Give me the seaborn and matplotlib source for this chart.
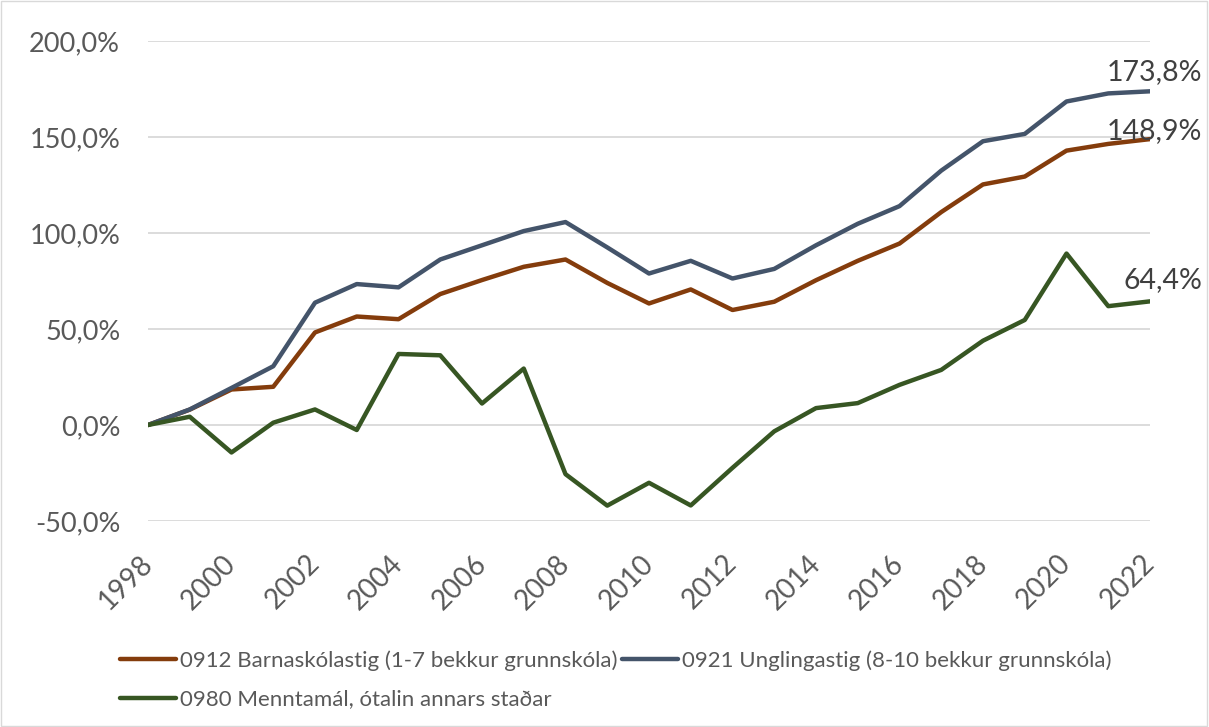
import pandas as pd
import seaborn as sns
import matplotlib.pyplot as plt
import matplotlib.transforms as mtrans
from matplotlib.patches import Rectangle

# Data (percent change since 1998)
years = list(range(1998, 2023))
barnaskolastig = [0, 8, 18.5, 19.9, 48.2, 56.5, 55.1, 68.2, 75.5, 82.4, 86.2, 74, 63.3,
                  70.6, 59.9, 64.2, 75.4, 85.5, 94.5, 110.9, 125.3, 129.4, 142.9, 146.4, 148.9]
unglingastig = [0, 8.1, 19.3, 30.6, 63.7, 73.4, 71.7, 86.2, 93.6, 101, 105.7, 92.5, 78.9,
                85.5, 76.3, 81.3, 93.6, 104.8, 114, 132.5, 147.8, 151.6, 168.5, 172.7, 173.8]
menntamal = [0, 4.3, -14.3, 1.2, 8.1, -2.6, 37, 36.3, 11.2, 29.4, -25.6, -42, -30.1,
             -41.9, -22.3, -3.3, 8.8, 11.4, 20.9, 28.7, 43.9, 54.7, 89.3, 61.9, 64.4]

names = ["0912 Barnaskólastig (1-7 bekkur grunnskóla)",
         "0921 Unglingastig (8-10 bekkur grunnskóla)",
         "0980 Menntamál, ótalin annars staðar"]
colors = ["#843C0C", "#44546A", "#375623"]

df = pd.DataFrame({"year": years, names[0]: barnaskolastig,
                   names[1]: unglingastig, names[2]: menntamal})
long = df.melt(id_vars="year", var_name="series", value_name="value")

sns.set_style("white")
plt.rcParams['font.family'] = ['Lato', 'DejaVu Sans']

fig = plt.figure(figsize=(12.09, 7.27), dpi=100)
ax = fig.add_axes([148 / 1209, 1 - 521 / 727, (1150 - 148) / 1209, (521 - 41) / 727])

sns.lineplot(data=long, x="year", y="value", hue="series", palette=colors,
             linewidth=3.2, ax=ax, legend=True)

ax.set_xlim(1998, 2022)
ax.set_ylim(-50, 200)
yt = [-50, 0, 50, 100, 150, 200]
ax.set_yticks(yt)
ax.set_yticklabels([f"{v:.1f}".replace('.', ',') + '%' for v in yt])
ax.set_xticks(years[::2])
ax.set_xticklabels([str(y) for y in years[::2]], rotation=45, ha='right',
                   rotation_mode='anchor')
ax.tick_params(axis='both', length=0, colors="#595959")
ax.tick_params(axis='y', pad=20, labelsize=19.5)
ax.tick_params(axis='x', pad=21, labelsize=20)
shift = mtrans.ScaledTranslation(-9 / 100, 0, fig.dpi_scale_trans)
for lab in ax.get_xticklabels():
    lab.set_transform(lab.get_transform() + shift)
ax.grid(axis='y', color="#D9D9D9", linewidth=1.3)
ax.set_axisbelow(True)
for s in ax.spines.values():
    s.set_visible(False)
ax.set_xlabel("")
ax.set_ylabel("")

# end labels
for vals, dy in [(unglingastig, 19), (barnaskolastig, 8), (menntamal, 21)]:
    ax.annotate(f"{vals[-1]:.1f}".replace('.', ',') + '%', (years[-1], vals[-1]),
                xytext=(52, dy), textcoords='offset pixels', ha='right', va='center',
                fontsize=20.5, color="#404040")

# legend: row1 -> first two, row2 -> third
handles, labels = ax.get_legend_handles_labels()
order = [0, 2, 1]
leg = ax.legend([handles[i] for i in order], [labels[i] for i in order], ncol=2,
                loc='upper left', bbox_to_anchor=(100 / 1209, 1 - 630 / 727),
                bbox_transform=fig.transFigure, frameon=False, fontsize=16,
                handlelength=2.5, handletextpad=0.2, columnspacing=0.2,
                labelspacing=0.85, labelcolor="#595959")

fig.patches.append(Rectangle((0.001, 0.001), 0.997, 0.997, transform=fig.transFigure,
                             fill=False, edgecolor="#D9D9D9", linewidth=1))

fig.savefig("out.png", dpi=100)
